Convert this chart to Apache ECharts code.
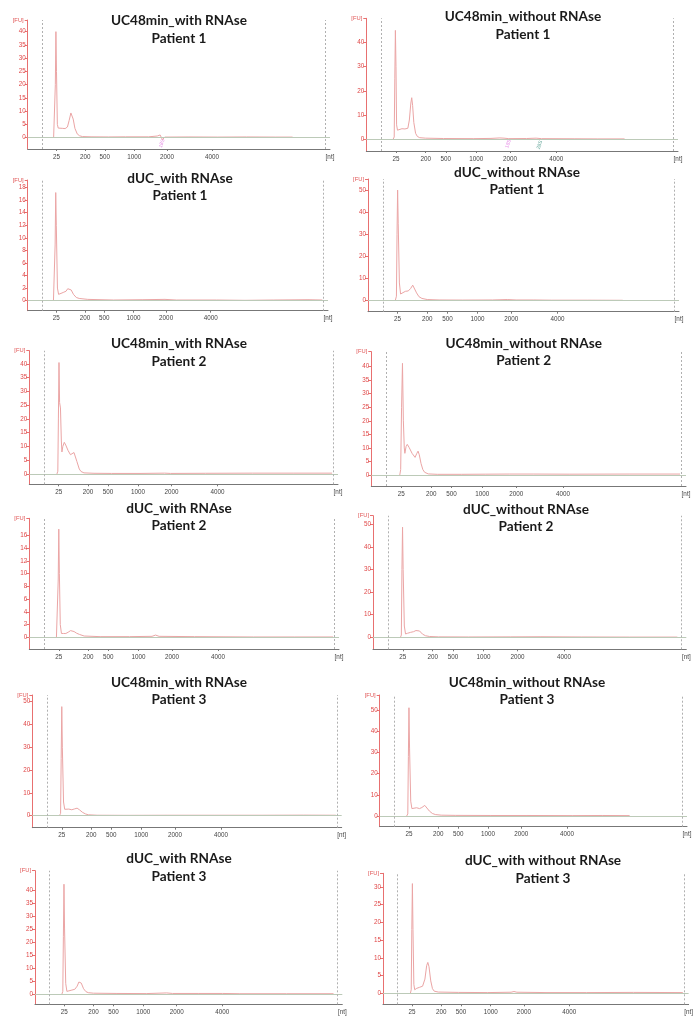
<!DOCTYPE html>
<html><head><meta charset="utf-8">
<script src="https://cdn.jsdelivr.net/npm/echarts@6/dist/echarts.min.js"></script>
<style>html,body{margin:0;padding:0;background:#fff}#c{width:696px;height:1017px}</style>
</head><body><div id="c"></div>
<script>
// ---- x axis: migration time (s) with ladder labels (nt) ----
const LADDER_NT = ['25', '200', '500', '1000', '2000', '4000'];
const LADDER_T = [22, 27, 30.4, 35.5, 41.2, 49];
const X_MIN = 17, X_MAX = 69.5;
const WINDOW_T = [19.5, 68.7];

// ---- panel titles ----
const TITLES = [
  'UC48min_with RNAse\nPatient 1', 'UC48min_without RNAse\nPatient 1',
  'dUC_with RNAse\nPatient 1', 'dUC_without RNAse\nPatient 1',
  'UC48min_with RNAse\nPatient 2', 'UC48min_without RNAse\nPatient 2',
  'dUC_with RNAse\nPatient 2', 'dUC_without RNAse\nPatient 2',
  'UC48min_with RNAse\nPatient 3', 'UC48min_without RNAse\nPatient 3',
  'dUC_with RNAse\nPatient 3', 'dUC_with without RNAse\nPatient 3'
];

// ---- y tick labels [FU] ----
const TICKS_5_40 = [0, 5, 10, 15, 20, 25, 30, 35, 40];
const TICKS_10_40 = [0, 10, 20, 30, 40];
const TICKS_2_18 = [0, 2, 4, 6, 8, 10, 12, 14, 16, 18];
const TICKS_10_50 = [0, 10, 20, 30, 40, 50];
const TICKS_2_16 = [0, 2, 4, 6, 8, 10, 12, 14, 16];
const TICKS_5_30 = [0, 5, 10, 15, 20, 25, 30];
const Y_TICKS = [TICKS_5_40, TICKS_10_40, TICKS_2_18, TICKS_10_50, TICKS_5_40, TICKS_5_40,
                 TICKS_2_16, TICKS_10_50, TICKS_10_50, TICKS_10_50, TICKS_5_40, TICKS_5_30];
const Y_RANGE = [[-4.3, 44.4], [-4.8, 50], [-1.6, 19.2], [-5, 55], [-3.75, 44.8], [-4.06, 45.5],
                 [-1.84, 18.7], [-5.3, 53.8], [-5.26, 52.9], [-5.03, 57], [-3.97, 47.4], [-3.1, 33.8]];

// ---- traces: [time s, FU] ----
const TRACE_UC_WITH_P1 = [[21.5,0],[21.7,0.5],[21.8,20],[21.9,40],[22.0,25],[22.15,5],[22.3,3.6],[22.6,3.8],[23.0,3.5],[23.5,3.4],[23.9,4.0],[24.2,6.5],[24.5,9.3],[24.65,9.5],[24.9,7],[25.2,3.5],[25.6,1.4],[26.0,0.7],[26.5,0.4],[28,0.3],[31,0.25],[34,0.3],[38,0.3],[39.5,0.6],[40.0,1.0],[40.4,-0.8],[40.8,0.2],[45,0.25],[50,0.2],[55,0.25],[60,0.2],[63,0.2]];
const TRACE_UC_WITHOUT_P1 = [[21.5,0],[21.7,1],[21.8,25],[21.9,45],[22.0,30],[22.1,6],[22.25,3.8],[22.5,4.2],[23.0,4.4],[23.5,4.3],[24.0,4.6],[24.25,8],[24.5,15],[24.65,17.2],[24.8,14],[25.0,7],[25.3,2.5],[25.6,1.2],[26.0,0.7],[27,0.5],[30,0.35],[35,0.3],[38,0.4],[39.5,0.6],[40.2,0.5],[41,0.3],[44,0.35],[45.6,0.5],[46.5,0.3],[52,0.25],[56,0.2],[60.5,0.2]];
const TRACE_DUC_WITH_P1 = [[21.5,0],[21.7,0.2],[21.8,9],[21.9,17.2],[22.0,12],[22.2,2],[22.4,1.0],[22.7,1.2],[23.2,1.3],[23.7,1.5],[24.0,1.9],[24.3,2.1],[24.6,1.7],[25.0,1.0],[25.5,0.5],[26.0,0.35],[27.5,0.2],[32,0.1],[37,0.15],[41,0.2],[43,0.1],[50,0.1],[55,0.05],[60,0.1],[66,0.15],[68.5,0.1]];
const TRACE_DUC_WITHOUT_P1 = [[21.6,0],[21.8,2],[21.9,30],[22.0,50],[22.1,35],[22.3,8],[22.5,3.0],[22.8,3.6],[23.3,4.2],[23.8,4.4],[24.2,5.5],[24.55,7.0],[24.8,6.2],[25.2,3.5],[25.6,1.8],[26.1,1.0],[27,0.5],[29,0.3],[33,0.25],[38,0.3],[40.5,0.5],[42,0.3],[45,0.3],[48,0.2],[54,0.2],[60,0.15]];
const TRACE_UC_WITH_P2 = [[21.7,0],[21.85,1],[21.95,20],[22.05,40.5],[22.15,26],[22.3,24],[22.45,12],[22.55,8],[22.7,10],[22.95,11.5],[23.2,10.5],[23.6,8.5],[24.0,7.0],[24.3,7.0],[24.6,7.8],[24.8,7.2],[25.1,4.5],[25.5,1.8],[25.8,0.9],[26.3,0.4],[28,0.25],[31,0.2],[36,0.2],[40,0.3],[41,0.2],[47,0.25],[55,0.3],[62,0.3],[68.5,0.3]];
const TRACE_UC_WITHOUT_P2 = [[21.75,0],[21.9,2],[22.05,25],[22.2,41.2],[22.35,20],[22.5,10],[22.6,8],[22.8,10.5],[23.0,11.3],[23.3,10.2],[23.8,8],[24.3,6.5],[24.6,8.0],[24.8,8.8],[25.0,7.5],[25.3,4.2],[25.6,2.0],[25.9,1.0],[26.5,0.4],[28,0.25],[32,0.25],[36,0.3],[40,0.35],[44,0.35],[50,0.3],[60,0.35],[68.5,0.35]];
const TRACE_DUC_WITH_P2 = [[21.6,0],[21.75,0.3],[21.9,9],[22.0,17],[22.1,10],[22.25,2],[22.45,0.6],[22.8,0.6],[23.2,0.6],[23.6,0.8],[24.0,1.05],[24.2,1.1],[24.6,0.9],[25.0,0.65],[25.5,0.45],[26.3,0.2],[29,0.1],[34,0.1],[37.8,0.15],[38.4,0.35],[39,0.15],[45,0.1],[55,0.05],[62,0.05],[68.5,0.05]];
const TRACE_DUC_WITHOUT_P2 = [[21.6,0],[21.75,1],[21.85,30],[21.95,48.7],[22.05,30],[22.25,5],[22.45,1.5],[22.8,1.8],[23.3,2.2],[23.8,2.5],[24.2,3.0],[24.5,3.3],[24.8,2.8],[25.3,1.4],[25.8,0.7],[26.5,0.35],[28,0.2],[33,0.15],[40,0.2],[45,0.25],[52,0.15],[60,0.1],[68,0.1]];
const TRACE_UC_WITH_P3 = [[21.6,0],[21.8,1],[21.9,25],[22.0,47.8],[22.1,30],[22.3,6],[22.5,2.8],[22.8,3.1],[23.2,2.9],[23.7,2.6],[24.2,3.0],[24.6,3.3],[25.0,2.6],[25.5,1.5],[26.0,0.8],[26.5,0.4],[28,0.2],[33,0.15],[40,0.2],[48,0.2],[56,0.2],[63,0.25],[68.5,0.2]];
const TRACE_UC_WITHOUT_P3 = [[21.6,0],[21.8,1],[21.9,28],[22.0,51],[22.1,32],[22.3,7],[22.5,3.5],[22.8,4.0],[23.3,3.9],[23.8,3.5],[24.2,4.0],[24.7,5.0],[25.0,4.2],[25.5,2.3],[26.0,1.2],[26.5,0.7],[27.5,0.4],[30,0.3],[36,0.25],[42,0.25],[50,0.2],[55,0.25],[59.7,0.2]];
const TRACE_DUC_WITH_P3 = [[21.6,0],[21.75,1],[21.85,22],[21.95,42.2],[22.05,25],[22.25,4],[22.45,1.0],[22.8,1.2],[23.3,1.5],[23.8,1.8],[24.2,3.0],[24.5,4.6],[24.7,5.0],[24.9,4.2],[25.3,2.0],[25.7,0.9],[26.1,0.5],[27,0.3],[31,0.2],[36,0.15],[39.5,0.4],[40.5,0.2],[45,0.2],[49,0.2],[52,0.1],[60,0.1],[68,0.1]];
const TRACE_DUC_WITHOUT_P3 = [[21.7,0],[21.85,1],[21.95,18],[22.05,30.9],[22.15,18],[22.3,2.5],[22.45,1.0],[22.8,1.4],[23.3,1.7],[23.8,2.0],[24.2,4.0],[24.5,7.8],[24.7,8.7],[24.9,7.5],[25.2,3.5],[25.5,1.3],[25.8,0.6],[26.5,0.35],[30,0.25],[35,0.2],[39,0.3],[39.5,0.5],[40,0.3],[45,0.2],[52,0.2],[60,0.25],[68.5,0.2]];
const TRACES = [TRACE_UC_WITH_P1, TRACE_UC_WITHOUT_P1, TRACE_DUC_WITH_P1, TRACE_DUC_WITHOUT_P1,
                TRACE_UC_WITH_P2, TRACE_UC_WITHOUT_P2, TRACE_DUC_WITH_P2, TRACE_DUC_WITHOUT_P2,
                TRACE_UC_WITH_P3, TRACE_UC_WITHOUT_P3, TRACE_DUC_WITH_P3, TRACE_DUC_WITHOUT_P3];

// ---- peak annotations: [panel, time, FU, text] ----
const PEAK_TAGS = [[0, 40.3, -2.2, '18S'], [1, 40.9, -1.8, '18S'], [1, 46.2, -2.3, '28S']];

// ---- layout (px): left, top, right, bottom, title centre x, title first line centre y ----
const LAYOUT = [
  [27.7, 20, 330, 149, 179, 20.7],
  [366.3, 18.3, 678, 151, 523, 16.7],
  [27.7, 180, 328, 310.7, 180, 178.3],
  [368, 179, 679, 311.7, 517, 172.3],
  [29.3, 350.7, 338, 484.3, 179, 344],
  [371.3, 351.7, 686, 486, 523.7, 343.3],
  [29.3, 518.3, 339, 649, 179, 508.3],
  [373, 515.7, 686.3, 649.3, 526, 509.3],
  [32.3, 695, 341.7, 827.7, 179, 682.3],
  [379.7, 695, 687, 826.7, 527, 682.3],
  [35, 870.7, 342.3, 1004.3, 179, 859],
  [383, 873.3, 689.7, 1004.3, 543, 860.7]
];

const TAG_COLORS = {'18S': '#e070e0', '28S': '#3c9080'};
const LINE_H = 17.5;

const grid = [], xAxis = [], yAxis = [], series = [], title = [];
LAYOUT.forEach((L, i) => {
  const [l, t, r, b, tx, ty] = L;
  grid.push({left: l, top: t, width: r - l, height: b - t, containLabel: false});
  xAxis.push({
    type: 'value', gridIndex: i, min: X_MIN, max: X_MAX,
    axisLine: {show: true, onZero: false, lineStyle: {color: '#777', width: 1}},
    axisTick: {show: true, length: 2, customValues: LADDER_T, lineStyle: {color: '#777'}},
    axisLabel: {
      customValues: LADDER_T.concat([X_MAX]), fontSize: 6.3, color: '#444', margin: 5,
      fontFamily: 'Liberation Sans',
      formatter: v => { if (v === X_MAX) return '[nt]'; const k = LADDER_T.indexOf(v); return k >= 0 ? LADDER_NT[k] : ''; }
    },
    splitLine: {show: false}
  });
  const ticks = Y_TICKS[i];
  yAxis.push({
    type: 'value', gridIndex: i, min: Y_RANGE[i][0], max: Y_RANGE[i][1],
    name: '[FU]', nameLocation: 'end', nameGap: 0,
    nameTextStyle: {fontSize: 5.8, color: '#e05555', align: 'right', verticalAlign: 'middle', padding: [0, 4, 0, 0], fontFamily: 'Liberation Sans'},
    axisLine: {show: true, lineStyle: {color: '#e87070', width: 1}},
    axisTick: {show: true, length: 3, customValues: ticks.concat([Y_RANGE[i][1]]), lineStyle: {color: '#e87070'}},
    axisLabel: {customValues: ticks, fontSize: 6.3, color: '#e04848', margin: 2, fontFamily: 'Liberation Sans'},
    splitLine: {show: false}
  });
  title.push({
    text: TITLES[i], left: tx, top: ty - LINE_H / 2, textAlign: 'center', padding: 0, itemGap: 0,
    textStyle: {fontFamily: 'Lato', fontWeight: 'bold', fontSize: 13.6, lineHeight: LINE_H, color: '#1a1a1a'}
  });
  series.push({
    type: 'line', xAxisIndex: i, yAxisIndex: i, data: TRACES[i], showSymbol: false, symbol: 'none',
    lineStyle: {color: '#eba5a5', width: 1}, z: 3, silent: true,
    markLine: {
      silent: true, symbol: 'none', label: {show: false}, animation: false,
      data: [
        {yAxis: 0, lineStyle: {color: '#bccab8', width: 1, type: 'solid'}},
        {xAxis: WINDOW_T[0], lineStyle: {color: '#b0b0b0', width: 1, type: [2, 2]}},
        {xAxis: WINDOW_T[1], lineStyle: {color: '#b0b0b0', width: 1, type: [2, 2]}}
      ]
    }
  });
});
PEAK_TAGS.forEach(p => {
  series.push({
    type: 'scatter', xAxisIndex: p[0], yAxisIndex: p[0], symbolSize: 0, silent: true,
    data: [[p[1], p[2]]],
    label: {show: true, formatter: p[3], rotate: 70, fontSize: 5, color: TAG_COLORS[p[3]], position: 'inside', fontFamily: 'Liberation Sans'}
  });
});

const chart = echarts.init(document.getElementById('c'), null, {renderer: 'canvas'});
chart.setOption({animation: false, backgroundColor: '#fff', title, grid, xAxis, yAxis, series});
</script></body></html>
